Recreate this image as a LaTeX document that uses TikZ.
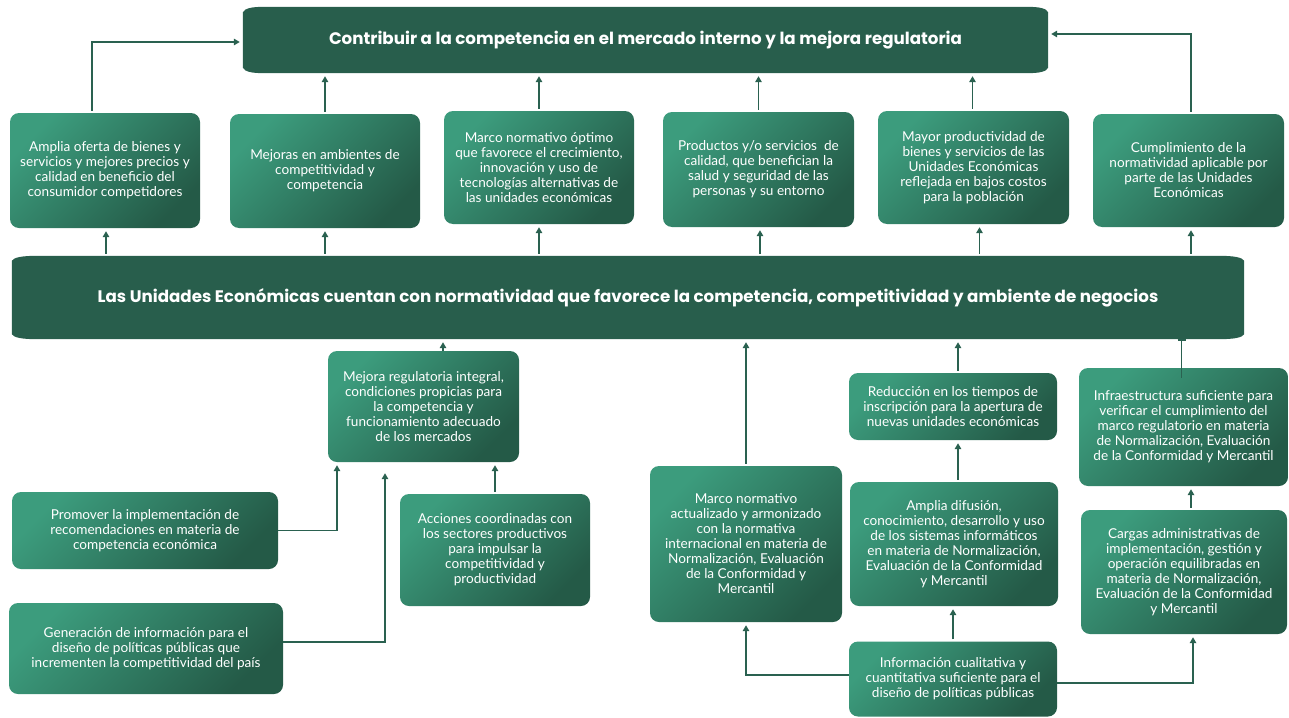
\documentclass[tikz,border=0pt]{standalone}
\usepackage{fontspec}
\setmainfont{Lato}
\newfontfamily\titlefont{Poppins}
\usetikzlibrary{arrows.meta,backgrounds,calc}
\definecolor{bannerC}{HTML}{285E4C}
\definecolor{lightC}{HTML}{3C9C7D}
\definecolor{darkC}{HTML}{245A47}
\definecolor{arrC}{HTML}{2A6150}
\newcommand\bannerfill[3]{% node, horizontal depth, vertical depth
  \fill[bannerC]
    ([yshift=-#3]#1.north west) .. controls ([xshift=2,yshift=-1.5]#1.north west) and ([xshift=#2*0.4]#1.north west) .. ([xshift=#2]#1.north west)
    -- ([xshift=-#2]#1.north east) .. controls ([xshift=-#2*0.4]#1.north east) and ([xshift=-2,yshift=-1.5]#1.north east) .. ([yshift=-#3]#1.north east)
    -- ([yshift=#3]#1.south east) .. controls ([xshift=-2,yshift=1.5]#1.south east) and ([xshift=-#2*0.4]#1.south east) .. ([xshift=-#2]#1.south east)
    -- ([xshift=#2]#1.south west) .. controls ([xshift=#2*0.4]#1.south west) and ([xshift=2,yshift=1.5]#1.south west) .. ([yshift=#3]#1.south west)
    -- cycle;}
\begin{document}
\begin{tikzpicture}[x=1pt,y=-1pt,
  box/.style={rounded corners=9, top color=lightC, bottom color=darkC, shading angle=45,
    text=white, align=center, inner sep=0pt,
    font=\fontsize{13.6}{15}\selectfont},
  banner/.style={text=white, inner sep=0pt, font=\titlefont\bfseries\fontsize{16.7}{20}\selectfont},
  arr/.style={draw=arrC, line width=1.8pt, -{Triangle[length=6pt,width=6.5pt]}, shorten <=2pt, shorten >=3pt},
  teeline/.style={draw=arrC, line width=1.8pt, -{Bar[width=8pt,line width=1.8pt]}},
]
\useasboundingbox (0,0) rectangle (1289,717);
% banners
\node[banner, minimum width=805, minimum height=66] (top) at (645.5,40) {\raisebox{-1.5pt}{Contribuir a la competencia en el mercado interno y la mejora regulatoria}};
\node[banner, minimum width=1232, minimum height=83] (mid) at (628,297.5) {Las Unidades Económicas cuentan con normatividad que favorece la competencia, competitividad y ambiente de negocios};
\begin{pgfonlayer}{background}
\bannerfill{top}{22}{5.5}
\bannerfill{mid}{26}{5}
\end{pgfonlayer}
% top row
\node[box, minimum width=190, minimum height=115] (b1) at (105,170.5) {Amplia oferta de bienes y\\servicios y mejores precios y\\calidad en beneficio del\\consumidor competidores};
\node[box, minimum width=190, minimum height=114] (b2) at (325,171) {Mejoras en ambientes de\\competitividad y\\competencia};
\node[box, minimum width=190, minimum height=113] (b3) at (539,167.5) {Marco normativo óptimo\\que favorece el crecimiento,\\innovación y uso de\\tecnologías alternativas de\\las unidades económicas};
\node[box, minimum width=191, minimum height=115] (b4) at (758.5,169.5) {Productos y/o servicios \ de\\calidad, que benefician la\\salud y seguridad de las\\personas y su entorno};
\node[box, minimum width=191, minimum height=113] (b5) at (973.5,167.5) {Mayor productividad de\\bienes y servicios de las\\Unidades Económicas\\reflejada en bajos costos\\para la población};
\node[box, minimum width=191, minimum height=113] (b6) at (1188.5,170.5) {Cumplimiento de la\\normatividad aplicable por\\parte de las Unidades\\Económicas};
% lower boxes
\node[box, minimum width=191, minimum height=111] (m1) at (423.5,406.5) {Mejora regulatoria integral,\\condiciones propicias para\\la competencia y\\funcionamiento adecuado\\de los mercados};
\node[box, minimum width=266, minimum height=77] (p1) at (145,530.5) {Promover la implementación de\\recomendaciones en materia de\\competencia económica};
\node[box, minimum width=274, minimum height=91] (g1) at (146,648.5) {Generación de información para el\\diseño de políticas públicas que\\incrementen la competitividad del país};
\node[box, minimum width=190, minimum height=112] (a1) at (495,550) {Acciones coordinadas con\\los sectores productivos\\para impulsar la\\competitividad y\\productividad};
\node[box, minimum width=192, minimum height=156] (mn) at (746,544) {Marco normativo\\actualizado y armonizado\\con la normativa\\internacional en materia de\\Normalización, Evaluación\\de la Conformidad y\\Mercantil};
\node[box, minimum width=208, minimum height=67] (rd) at (953,406.5) {Reducción en los tiempos de\\inscripción para la apertura de\\nuevas unidades económicas};
\node[box, minimum width=208, minimum height=124] (ad) at (954,544) {Amplia difusión,\\conocimiento, desarrollo y uso\\de los sistemas informáticos\\en materia de Normalización,\\Evaluación de la Conformidad\\y Mercantil};
\node[box, minimum width=209, minimum height=118] (inf) at (1183.5,427) {Infraestructura suficiente para\\verificar el cumplimiento del\\marco regulatorio en materia\\de Normalización, Evaluación\\de la Conformidad y Mercantil};
\node[box, minimum width=206, minimum height=124] (cg) at (1184,572) {Cargas administrativas de\\implementación, gestión y\\operación equilibradas en\\materia de Normalización,\\Evaluación de la Conformidad\\y Mercantil};
\node[box, minimum width=208, minimum height=75] (ic) at (953,679) {Información cualitativa y\\cuantitativa suficiente para el\\diseño de políticas públicas};
% top row -> top banner
\draw[arr] ([xshift=-13]b1.north) |- ([yshift=-2]top.west);
\draw[arr] (b2.north) -- (b2.north |- top.south);
\draw[arr] (b3.north) -- (b3.north |- top.south);
\draw[arr] (b4.north) -- (b4.north |- top.south);
\draw[arr] ([xshift=-1]b5.north) -- ([xshift=-1]b5.north |- top.south);
\draw[arr] ([xshift=2.5]b6.north) |- ([yshift=6]top.east);
% mid banner -> top row
\draw[arr] ([xshift=1]b1.south |- mid.north) -- ([xshift=1]b1.south);
\draw[arr] (b2.south |- mid.north) -- (b2.south);
\draw[arr] (b3.south |- mid.north) -- (b3.south);
\draw[arr] ([xshift=1.5]b4.south |- mid.north) -- ([xshift=1.5]b4.south);
\draw[arr] ([xshift=6]b5.south |- mid.north) -- ([xshift=6]b5.south);
\draw[arr] ([xshift=2.5]b6.south |- mid.north) -- ([xshift=2.5]b6.south);
% lower -> mid
\draw[arr, shorten <=0pt] ([xshift=19.5]m1.north) -- ([xshift=19.5]m1.north |- mid.south);
\draw[arr] (mn.north) -- (mn.north |- mid.south);
\draw[arr] ([xshift=5]rd.north) -- ([xshift=5]rd.north |- mid.south);
\draw[teeline] ([yshift=-10]inf.north -| 1181.5,0) -- ([xshift=-2]inf.north |- mid.south);
% into m1
\draw[arr, shorten <=0pt] (p1.east) -| ([xshift=-86.5]m1.south);
\draw[arr, shorten <=0pt, shorten >=11pt] ([yshift=6.5]g1.east) -| ([xshift=-38.5]m1.south);
\draw[arr] (a1.north) -- (a1.north |- m1.south);
% right side
\draw[arr] ([xshift=4]ad.north) -- ([xshift=4]ad.north |- rd.south);
\draw[arr] ([xshift=7]cg.north) -- ([xshift=7]cg.north |- inf.south);
\draw[arr, shorten <=0pt] ([yshift=4]ic.west) -| (mn.south);
\draw[arr] (ic.north) -- (ic.north |- ad.south);
\draw[arr, shorten <=0pt] ([yshift=-4]ic.east) -| ([xshift=9]cg.south);
\end{tikzpicture}
\end{document}
